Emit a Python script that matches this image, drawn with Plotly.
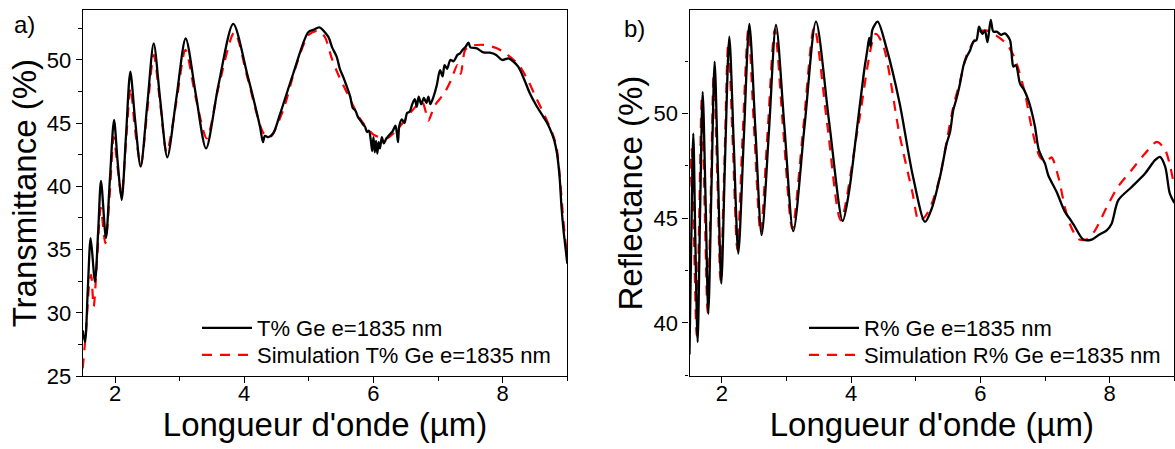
import plotly.graph_objects as go

# ---------------- data: panel a) transmittance ----------------
wl_T_meas = [1.5, 1.536, 1.58, 1.623, 1.69, 1.74, 1.783, 1.86, 1.92, 1.985, 2.04, 2.103, 2.17, 2.237,
             2.31, 2.397, 2.5, 2.599, 2.7, 2.81, 2.95, 3.094, 3.25, 3.409, 3.6, 3.83, 4.05, 4.245,
             4.29, 4.32, 4.373, 4.45, 4.55, 4.76, 4.99, 5.08, 5.163, 5.3, 5.36, 5.43, 5.48, 5.53,
             5.58, 5.64, 5.68, 5.72, 5.76, 5.8, 5.84, 5.87, 5.9, 5.93, 5.96, 5.98, 6.0, 6.02, 6.04,
             6.06, 6.08, 6.1, 6.13, 6.16, 6.2, 6.25, 6.3, 6.34, 6.36, 6.38, 6.4, 6.44, 6.48, 6.52,
             6.56, 6.6, 6.64, 6.67, 6.7, 6.74, 6.78, 6.82, 6.85, 6.88, 6.93, 6.98, 7.03, 7.07, 7.1,
             7.14, 7.19, 7.24, 7.3, 7.34, 7.38, 7.42, 7.47, 7.5, 7.6, 7.7, 7.8, 7.9, 7.99, 8.09,
             8.16, 8.24, 8.33, 8.42, 8.52, 8.63, 8.7, 8.76, 8.8, 8.84, 8.88, 8.91, 8.94, 8.97, 9.0]
T_meas = [28.6, 27.7, 32.0, 35.9, 32.46, 36.5, 40.43, 35.9, 40.5, 45.25, 42.0, 38.92, 44.0, 49.08,
          45.3, 41.56, 46.5, 51.32, 46.8, 42.3, 47.0, 51.7, 47.3, 43.0, 48.0, 52.85, 48.8, 44.7,
          43.5, 44.0, 43.9, 44.2, 45.65, 48.95, 52.19, 52.4, 52.58, 51.84, 51.0, 50.26, 49.3, 48.68,
          48.0, 47.1, 46.2, 46.0, 45.5, 45.2, 44.9, 44.72, 44.3, 44.4, 43.6, 42.8, 43.9, 42.7, 43.6,
          42.6, 43.5, 43.0, 43.9, 43.4, 43.8, 44.1, 44.4, 44.8, 44.3, 43.5, 44.8, 45.3, 45.0, 45.8,
          45.9, 46.5, 46.9, 46.3, 47.1, 46.5, 47.0, 46.6, 47.1, 46.5, 47.1, 48.0, 49.2, 48.7, 49.6,
          49.3, 50.0, 49.9, 50.4, 50.53, 50.8, 51.0, 51.37, 51.0, 50.92, 50.6, 50.58, 50.4, 50.0, 50.13,
          49.9, 49.47, 48.5, 47.37, 46.4, 45.5, 44.9, 44.2, 43.6, 42.62, 40.8, 38.4, 36.6, 35.23, 33.9]

wl_T_sim = [1.5, 1.55, 1.6, 1.63, 1.67, 1.72, 1.78, 1.85, 1.92, 1.98, 2.04, 2.1, 2.17, 2.24, 2.31,
            2.4, 2.5, 2.6, 2.7, 2.8, 2.95, 3.09, 3.25, 3.42, 3.6, 3.85, 4.05, 4.3, 4.4, 4.6, 4.8,
            5.0, 5.15, 5.25, 5.35, 5.45, 5.6, 5.8, 6.0, 6.2, 6.4, 6.6, 6.75, 6.85, 6.88, 6.95, 7.1,
            7.2, 7.3, 7.35, 7.42, 7.5, 7.7, 7.9, 8.05, 8.25, 8.4, 8.5, 8.65, 8.77, 8.83, 8.88, 8.92,
            8.96, 9.0]
T_sim = [25.6, 28.5, 32.2, 33.0, 30.5, 34.0, 38.3, 35.5, 39.5, 43.9, 41.5, 39.3, 43.5, 47.8, 44.5,
         41.7, 46.0, 50.4, 46.5, 42.7, 46.7, 50.8, 47.0, 43.8, 47.8, 52.2, 48.6, 44.2, 43.9, 46.0, 49.5,
         52.0, 52.3, 51.8, 50.2, 48.9, 47.3, 45.3, 44.1, 43.8, 44.7, 46.0, 46.7, 45.2, 45.5, 46.4, 47.4,
         48.4, 49.6, 48.9, 50.8, 51.1, 51.2, 50.95, 50.5, 49.6, 48.3, 47.2, 45.6, 44.2, 43.2, 41.0, 38.5,
         36.2, 34.5]

# ---------------- data: panel b) reflectance ----------------
wl_R_meas = [1.5, 1.53, 1.559, 1.59, 1.626, 1.665, 1.704, 1.75, 1.791, 1.84, 1.889, 1.94, 1.992,
             2.05, 2.116, 2.185, 2.255, 2.34, 2.426, 2.52, 2.616, 2.73, 2.838, 2.97, 3.106, 3.28,
             3.457, 3.66, 3.87, 3.97, 4.08, 4.2, 4.25, 4.28, 4.3, 4.33, 4.411, 4.54, 4.75, 4.95,
             5.143, 5.247, 5.375, 5.479, 5.53, 5.581, 5.63, 5.685, 5.74, 5.788, 5.84, 5.891, 5.94,
             5.979, 6.03, 6.07, 6.11, 6.16, 6.2, 6.252, 6.32, 6.38, 6.458, 6.49, 6.51, 6.55, 6.613,
             6.68, 6.741, 6.8, 6.845, 6.9, 6.948, 7.0, 7.05, 7.18, 7.309, 7.4, 7.464, 7.592, 7.722,
             7.825, 7.954, 8.03, 8.134, 8.341, 8.547, 8.701, 8.779, 8.86, 8.93, 9.0]
R_meas = [38.5, 44.5, 49.04, 44.0, 39.09, 45.5, 51.03, 45.7, 40.44, 46.5, 52.47, 47.2, 41.88,
          47.8, 53.66, 48.5, 43.31, 48.8, 54.27, 49.2, 44.19, 49.2, 54.22, 49.3, 44.38, 49.4,
          54.38, 49.6, 44.87, 46.3, 49.0, 52.0, 53.0, 53.6, 53.2, 54.0, 54.38, 53.2, 50.5, 47.1,
          44.82, 45.46, 46.97, 48.57, 49.1, 50.16, 50.7, 51.43, 52.3, 52.7, 53.0, 53.42, 53.5,
          54.14, 53.8, 53.95, 53.4, 54.46, 53.9, 53.9, 53.75, 53.82, 53.5, 52.6, 52.23, 52.3, 51.43,
          51.1, 50.64, 50.0, 49.36, 48.3, 47.93, 47.6, 47.05, 46.25, 45.3, 44.9, 44.58, 43.98, 43.98,
          44.19, 44.42, 44.74, 45.86, 46.49, 47.13, 47.77, 47.93, 47.45, 46.18, 45.73]

wl_R_sim = [1.5, 1.535, 1.57, 1.61, 1.65, 1.69, 1.735, 1.78, 1.83, 1.875, 1.93, 1.98, 2.04, 2.1,
            2.17, 2.24, 2.32, 2.41, 2.5, 2.6, 2.71, 2.82, 2.95, 3.09, 3.26, 3.43, 3.63, 3.84, 4.11,
            4.38, 4.5, 4.746, 4.95, 5.05, 5.15, 5.25, 5.375, 5.48, 5.58, 5.69, 5.79, 5.89, 6.0, 6.1,
            6.252, 6.41, 6.536, 6.69, 6.79, 6.92, 7.02, 7.1, 7.206, 7.309, 7.387, 7.516, 7.64, 7.77,
            7.95, 8.13, 8.34, 8.55, 8.73, 8.86, 9.0]
R_sim = [46.5, 48.3, 44.0, 39.4, 45.0, 50.7, 45.5, 40.5, 46.2, 52.0, 47.0, 42.0, 47.6, 53.4,
         48.5, 43.5, 48.8, 54.0, 49.2, 44.3, 49.2, 54.0, 49.2, 44.5, 49.3, 54.1, 49.5, 44.9, 49.4,
         53.8, 53.2, 49.04, 46.2, 44.87, 45.1, 45.7, 47.0, 48.7, 50.3, 51.6, 52.8, 53.4, 53.9, 53.95,
         53.7, 53.3, 52.6, 50.96, 49.36, 47.93, 47.7, 47.9, 46.97, 45.5, 44.7, 44.0, 43.98, 44.4,
         45.5, 46.5, 47.3, 48.1, 48.64, 48.25, 46.5]

x_ticks = [2, 4, 6, 8]
T_ticks = [25, 30, 35, 40, 45, 50]
R_ticks = [40, 45, 50]

FONT = "Arial, Liberation Sans, sans-serif"
W, H = 1175, 449


def px_x(p):
    return p / W


def px_y(p):
    return 1 - p / H


fig = go.Figure()
fig.add_trace(go.Scatter(x=wl_T_sim, y=T_sim, mode="lines", name="Simulation T% Ge e=1835 nm",
                         line=dict(color="#ff0000", width=2.2, dash="10px,8px", shape="spline", smoothing=0.8),
                         xaxis="x", yaxis="y", legend="legend2"))
fig.add_trace(go.Scatter(x=wl_T_meas, y=T_meas, mode="lines", name="T% Ge e=1835 nm",
                         line=dict(color="black", width=2.3, shape="spline", smoothing=0.8),
                         xaxis="x", yaxis="y", legend="legend"))
fig.add_trace(go.Scatter(x=wl_R_sim, y=R_sim, mode="lines", name="Simulation R% Ge e=1835 nm",
                         line=dict(color="#ff0000", width=2.2, dash="10px,8px", shape="spline", smoothing=0.8),
                         xaxis="x2", yaxis="y2", legend="legend4"))
fig.add_trace(go.Scatter(x=wl_R_meas, y=R_meas, mode="lines", name="R% Ge e=1835 nm",
                         line=dict(color="black", width=2.3, shape="spline", smoothing=0.8),
                         xaxis="x2", yaxis="y2", legend="legend3"))

axis_common = dict(showline=True, linecolor="black", linewidth=1.3, mirror=True,
                   ticks="outside", ticklen=6, tickwidth=1.3, tickcolor="black",
                   showgrid=False, zeroline=False, automargin=False,
                   tickfont=dict(family=FONT, size=22, color="black"))

xcommon = dict(axis_common, range=[1.5, 9], tickvals=x_ticks, ticklabelstandoff=-9,
               minor=dict(ticks="outside", ticklen=3.5, tickwidth=1.3, tickcolor="black", dtick=1, tick0=0),
               title=dict(text="Longueur d'onde (µm)", font=dict(family=FONT, size=33, color="black"), standoff=6))

leg_common = dict(xanchor="left", yanchor="middle", bgcolor="rgba(0,0,0,0)",
                  font=dict(family=FONT, size=22, color="black"), itemwidth=50)

fig.update_layout(
    width=W, height=H,
    margin=dict(l=0, r=0, t=0, b=0),
    paper_bgcolor="white", plot_bgcolor="white",
    xaxis=dict(xcommon, domain=[px_x(82.7), px_x(567.3)], anchor="y"),
    yaxis=dict(axis_common, domain=[px_y(376), px_y(10.3)], anchor="x", range=[25, 53.93],
               tickvals=T_ticks,
               minor=dict(ticks="outside", ticklen=3.5, tickwidth=1.3, tickcolor="black", dtick=2.5, tick0=0),
               title=dict(text="Transmittance (%)", font=dict(family=FONT, size=33, color="black"), standoff=0)),
    xaxis2=dict(xcommon, domain=[px_x(689.5), px_x(1174.3)], anchor="y2"),
    yaxis2=dict(axis_common, domain=[px_y(376), px_y(10.3)], anchor="x2", range=[37.47, 54.92],
                tickvals=R_ticks,
                minor=dict(ticks="outside", ticklen=3.5, tickwidth=1.3, tickcolor="black", dtick=2.5, tick0=0),
                title=dict(text="Reflectance (%)", font=dict(family=FONT, size=33, color="black"), standoff=0)),
    legend=dict(leg_common, x=px_x(197), y=px_y(328)),
    legend2=dict(leg_common, x=px_x(197), y=px_y(355)),
    legend3=dict(leg_common, x=px_x(804), y=px_y(328)),
    legend4=dict(leg_common, x=px_x(804), y=px_y(355)),
    showlegend=True,
    annotations=[
        dict(text="a)", x=px_x(24), y=px_y(24), xref="paper", yref="paper", showarrow=False,
             xanchor="center", yanchor="middle", font=dict(family=FONT, size=24, color="black")),
        dict(text="b)", x=px_x(634), y=px_y(29), xref="paper", yref="paper", showarrow=False,
             xanchor="center", yanchor="middle", font=dict(family=FONT, size=24, color="black")),
    ],
)

fig.write_html("out.html", config={"displayModeBar": False},
               post_script="document.body.style.margin='0';document.body.style.overflow='hidden';")
